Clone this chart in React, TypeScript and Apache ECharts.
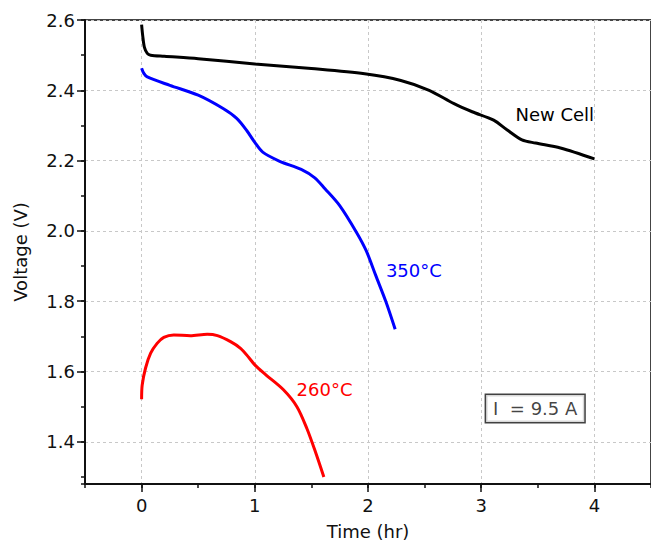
import React, { useEffect, useRef } from "react";
import * as echarts from "echarts";

const timeNew = [0, 0.01, 0.025, 0.05, 0.08, 0.2, 0.5, 1.0, 1.5, 1.97, 2.29, 2.54, 2.76, 2.92, 3.11, 3.23, 3.36, 3.48, 3.7, 4.0];
const voltNew = [2.587, 2.555, 2.522, 2.505, 2.5, 2.497, 2.49, 2.475, 2.462, 2.447, 2.428, 2.4, 2.362, 2.339, 2.315, 2.287, 2.259, 2.25, 2.236, 2.205];

const time350 = [0, 0.02, 0.05, 0.25, 0.5, 0.72, 0.84, 0.93, 1.0, 1.07, 1.22, 1.41, 1.53, 1.62, 1.75, 1.9, 1.985, 2.07, 2.16, 2.24];
const volt350 = [2.463, 2.448, 2.438, 2.414, 2.386, 2.348, 2.32, 2.285, 2.252, 2.224, 2.198, 2.175, 2.151, 2.12, 2.072, 1.995, 1.943, 1.872, 1.797, 1.72];

const time260 = [0, 0.005, 0.035, 0.08, 0.137, 0.196, 0.284, 0.43, 0.58, 0.67, 0.786, 0.874, 0.947, 1.0, 1.1, 1.253, 1.372, 1.46, 1.536, 1.61];
const volt260 = [1.521, 1.561, 1.61, 1.652, 1.68, 1.697, 1.704, 1.702, 1.706, 1.702, 1.685, 1.666, 1.64, 1.619, 1.59, 1.548, 1.5, 1.438, 1.371, 1.3];

const seriesNames = ["New Cell", "350°C", "260°C"];
const seriesColors = ["#000000", "#0000ff", "#ff0000"];
const labelPos = [
  [3.65, 2.331],
  [2.405, 1.888],
  [1.616, 1.548],
];
const noteText = "I  = 9.5 A";
const notePos = [3.477, 1.495];

const FONT = "DejaVu Sans";

const pairs = (xs: number[], ys: number[]) => xs.map((x, i) => [x, ys[i]]);

export default function App() {
  const ref = useRef<HTMLDivElement>(null);
  useEffect(() => {
    document.body.style.margin = "0";
    const chart = echarts.init(ref.current!, null, { renderer: "svg" });
    const datasets = [pairs(timeNew, voltNew), pairs(time350, volt350), pairs(time260, volt260)];
    const gridDash = { color: "#c8c8c8", width: 1, type: [3, 3] as any };
    const series: any[] = datasets.map((d, i) => ({
      type: "line",
      name: seriesNames[i],
      data: d,
      showSymbol: false,
      smooth: 0.3,
      lineStyle: { color: seriesColors[i], width: 3 },
      xAxisIndex: 0,
      yAxisIndex: 0,
      z: 5,
      markPoint: {
        symbol: "circle",
        symbolSize: 0,
        silent: true,
        data: [
          {
            coord: labelPos[i],
            label: {
              show: true,
              formatter: seriesNames[i],
              color: seriesColors[i],
              fontFamily: FONT,
              fontSize: 18,
              position: "inside",
            },
          },
        ],
      },
    }));
    series.push({
      type: "scatter",
      data: [notePos],
      symbolSize: 0,
      silent: true,
      z: 6,
      label: {
        show: true,
        position: "inside",
        formatter: noteText,
        color: "#111",
        fontFamily: FONT,
        fontSize: 18,
        lineHeight: 19,
        padding: [4, 7, 4, 7],
        borderColor: "#111",
        borderWidth: 1.5,
        backgroundColor: "#fff",
      },
    });
    chart.setOption({
      animation: false,
      backgroundColor: "#ffffff",
      grid: {
        left: 85,
        right: -1,
        top: 20,
        bottom: 58,
        show: true,
        borderColor: "#444",
        borderWidth: 2,
        backgroundColor: "transparent",
      },
      xAxis: [
        {
          type: "value",
          min: -0.5,
          max: 4.5,
          splitNumber: 5,
          name: "Time (hr)",
          nameLocation: "middle",
          nameGap: 38,
          nameTextStyle: { fontFamily: FONT, fontSize: 18, color: "#111" },
          axisLine: { show: true, onZero: false, lineStyle: { color: "#111", width: 2 } },
          axisTick: { show: true, inside: false, length: 8, lineStyle: { color: "#111", width: 1.5 } },
          axisLabel: {
            fontFamily: FONT,
            fontSize: 18,
            color: "#111",
            margin: 12,
            showMinLabel: false,
            showMaxLabel: false,
            formatter: (v: number) => (Math.abs(v - Math.round(v)) < 1e-6 ? String(Math.round(v)) : ""),
          },
          splitLine: { show: true, lineStyle: gridDash },
        },
        {
          type: "value",
          min: -0.5,
          max: 4.5,
          interval: 0.5,
          position: "bottom",
          axisLine: { show: false, onZero: false },
          axisTick: { show: true, inside: false, length: 4, lineStyle: { color: "#111", width: 1.5 } },
          axisLabel: { show: false },
          splitLine: { show: false },
        },
      ],
      yAxis: [
        {
          type: "value",
          min: 1.28,
          max: 2.6,
          splitNumber: 6,
          name: "Voltage (V)",
          nameLocation: "middle",
          nameGap: 56,
          nameTextStyle: { fontFamily: FONT, fontSize: 18, color: "#111" },
          axisLine: { show: true, onZero: false, lineStyle: { color: "#111", width: 2 } },
          axisTick: { show: true, inside: false, length: 8, lineStyle: { color: "#111", width: 1.5 } },
          axisLabel: {
            fontFamily: FONT,
            fontSize: 18,
            color: "#111",
            margin: 10,
            showMinLabel: false,
            formatter: (v: number) => (Math.abs(v * 5 - Math.round(v * 5)) < 1e-6 ? v.toFixed(1) : ""),
          },
          splitLine: { show: true, lineStyle: gridDash },
        },
        {
          type: "value",
          min: 1.28,
          max: 2.6,
          splitNumber: 13,
          position: "left",
          axisLine: { show: false, onZero: false },
          axisTick: { show: true, inside: false, length: 4, lineStyle: { color: "#111", width: 1.5 } },
          axisLabel: { show: false },
          splitLine: { show: false },
        },
      ],
      series,
    });
    return () => chart.dispose();
  }, []);
  return <div ref={ref} style={{ position: "absolute", left: 0, top: 0, width: 651, height: 545 }} />;
}
